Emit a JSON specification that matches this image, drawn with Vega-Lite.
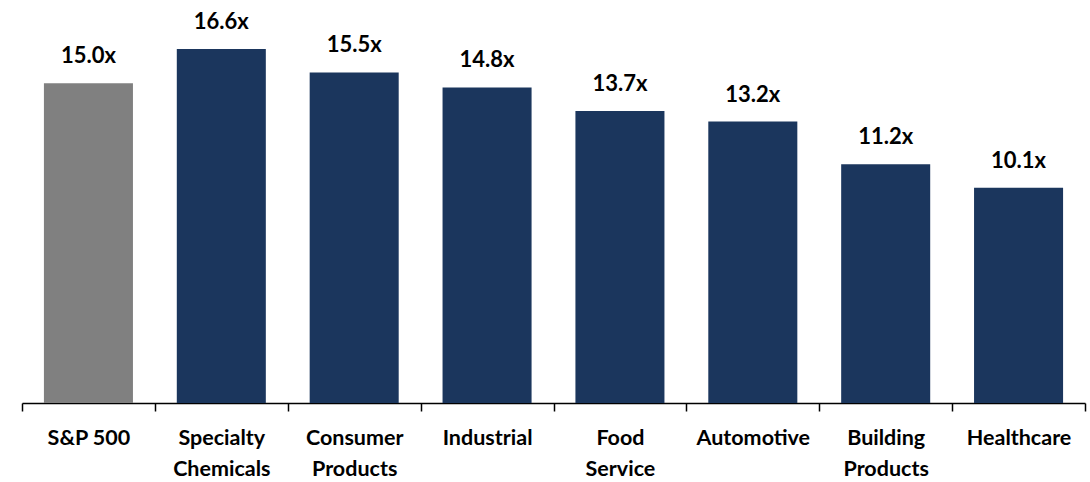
{
  "$schema": "https://vega.github.io/schema/vega-lite/v6.json",
  "autosize": {"type": "none"},
  "padding": {"left": 22, "top": 0, "right": 5, "bottom": 79},
  "width": 1063,
  "height": 403,
  "background": "white",
  "config": {"view": {"stroke": null}, "font": "Lato"},
  "data": {
    "values": [
      {"category": "S&P 500", "value": 15.0, "label": "15.0x", "group": "index"},
      {"category": "Specialty|Chemicals", "value": 16.6, "label": "16.6x", "group": "sector"},
      {"category": "Consumer|Products", "value": 15.5, "label": "15.5x", "group": "sector"},
      {"category": "Industrial", "value": 14.8, "label": "14.8x", "group": "sector"},
      {"category": "Food|Service", "value": 13.7, "label": "13.7x", "group": "sector"},
      {"category": "Automotive", "value": 13.2, "label": "13.2x", "group": "sector"},
      {"category": "Building|Products", "value": 11.2, "label": "11.2x", "group": "sector"},
      {"category": "Healthcare", "value": 10.1, "label": "10.1x", "group": "sector"}
    ]
  },
  "encoding": {
    "x": {
      "field": "category",
      "type": "nominal",
      "sort": null,
      "scale": {"paddingInner": 0, "paddingOuter": 0},
      "axis": {
        "title": null,
        "labelAngle": 0,
        "labelExpr": "datum.value ? split(datum.value, '|') : ''",
        "labelFont": "Lato",
        "labelFontWeight": "bold",
        "labelFontSize": 21.5,
        "labelColor": "#000000",
        "labelLineHeight": 31,
        "labelPadding": 16,
        "labelBaseline": "top",
        "labelOverlap": false,
        "labelLimit": 200,
        "domainColor": "#000000",
        "domainWidth": 1.5,
        "tickColor": "#000000",
        "tickWidth": 1.5,
        "tickSize": 8,
        "tickBand": "extent"
      }
    },
    "y": {
      "field": "value",
      "type": "quantitative",
      "scale": {"domain": [0, 18.9]},
      "axis": null
    }
  },
  "layer": [
    {
      "mark": {"type": "bar", "width": {"band": 0.67}},
      "encoding": {
        "color": {
          "field": "group",
          "type": "nominal",
          "scale": {"domain": ["index", "sector"], "range": ["#808080", "#1b365d"]},
          "legend": null
        }
      }
    },
    {
      "mark": {
        "type": "text",
        "baseline": "bottom",
        "dy": -15,
        "fontSize": 22,
        "fontWeight": "bold",
        "font": "Lato",
        "color": "#000000"
      },
      "encoding": {
        "text": {"field": "label", "type": "nominal"}
      }
    }
  ]
}
